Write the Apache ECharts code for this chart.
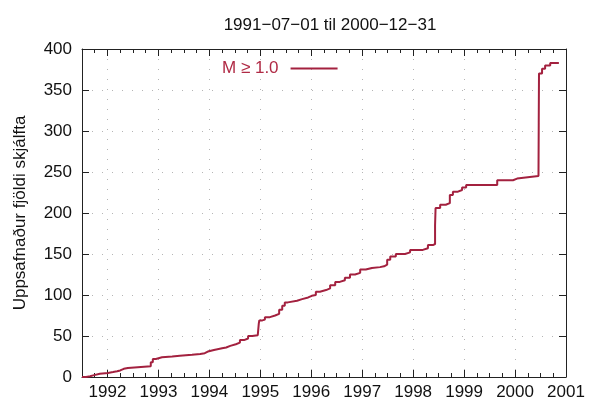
<!DOCTYPE html>
<html>
<head>
<meta charset="utf-8">
<script src="https://cdn.jsdelivr.net/npm/echarts@6/dist/echarts.min.js"></script>
<style>
  html, body { margin: 0; padding: 0; background: #fff; }
  #chart { width: 590px; height: 405px; }
</style>
</head>
<body>
<div id="chart"></div>
<script>
// Cumulative count of earthquakes M >= 1.0, 1991-07-01 .. 2000-12-31
// Event times as decimal years, cumulative count after each step
const eventYears = [
  1991.50, 1991.58, 1991.66, 1991.72, 1991.85, 1992.01, 1992.11, 1992.19,
  1992.25, 1992.32, 1992.40, 1992.85, 1992.89, 1992.95, 1993.07, 1993.27,
  1993.42, 1993.66, 1993.82, 1993.91, 1993.97, 1994.09, 1994.25, 1994.33,
  1994.41, 1994.52, 1994.60, 1994.68, 1994.76, 1994.84, 1994.95, 1994.97,
  1994.98, 1995.04, 1995.09, 1995.19, 1995.29, 1995.37, 1995.43, 1995.48,
  1995.54, 1995.72, 1995.82, 1995.94, 1996.01, 1996.09, 1996.17, 1996.29,
  1996.37, 1996.47, 1996.56, 1996.66, 1996.76, 1996.86, 1996.96, 1997.07,
  1997.19, 1997.35, 1997.43, 1997.49, 1997.55, 1997.66, 1997.84, 1997.94,
  1998.19, 1998.29, 1998.39, 1998.43, 1998.44, 1998.53, 1998.64, 1998.72,
  1998.78, 1998.88, 1998.96, 1999.04, 1999.65, 1999.96, 2000.04, 2000.29,
  2000.46, 2000.465, 2000.47, 2000.53, 2000.59, 2000.69, 2000.86
];
const cumulativeCount = [
  0, 1, 2, 4, 5, 6, 7, 8,
  10, 11, 13, 18, 22, 24, 25, 26,
  27, 28, 29, 31, 33, 35, 36, 38,
  40, 42, 45, 47, 50, 51, 52, 65,
  69, 70, 73, 75, 77, 82, 87, 91,
  93, 95, 97, 99, 100, 104, 106, 108,
  112, 116, 118, 121, 125, 127, 131, 133,
  134, 135, 137, 143, 147, 150, 152, 155,
  157, 161, 162, 185, 206, 210, 212, 222,
  226, 228, 231, 234, 240, 242, 244, 245,
  246, 310, 370, 376, 380, 383, 383
];

const titleText = '1991\u221207\u221201 til 2000\u221212\u221231';
const yAxisTitle = 'Uppsafnaður fjöldi skjálfta';
const seriesName = 'M \u2265 1.0';
const xMin = 1991.5, xMax = 2001;
const yMin = 0, yMax = 400, yStep = 50;

const lineColor = '#a3213f';
const axisColor = '#222';
const gridColor = '#b5b5b5';
const font = 'Liberation Sans, Arial, Helvetica, sans-serif';

const chart = echarts.init(document.getElementById('chart'));

const yearLabel = v => (Math.abs(v - Math.round(v)) < 1e-6 ? String(Math.round(v)) : '');

chart.setOption({
  animation: false,
  backgroundColor: '#fff',
  title: {
    text: titleText,
    left: 325, top: 12, textAlign: 'center',
    textStyle: { fontFamily: font, fontSize: 17, fontWeight: 'normal', color: '#111' }
  },
  legend: {
    left: 217, top: 55,
    align: 'right',
    itemWidth: 47, itemHeight: 10,
    icon: 'path://M0,0 L48,0 L48,2 L0,2 Z',
    textStyle: { fontFamily: font, fontSize: 17, color: '#b02a45', padding: [0, 7, 0, 0] },
    data: [{ name: seriesName, itemStyle: { color: lineColor } }]
  },
  grid: { left: 82, right: 24, top: 49, bottom: 28 },
  xAxis: [
    {
      // years, bottom
      type: 'value', min: xMin, max: xMax, splitNumber: 10, position: 'bottom',
      axisLine: { show: true, lineStyle: { color: axisColor, width: 1 } },
      axisTick: { show: true, inside: true, length: 7, lineStyle: { color: axisColor } },
      axisLabel: { formatter: yearLabel, fontFamily: font, fontSize: 17, color: '#111', margin: 7 },
      splitLine: { show: true, lineStyle: { color: gridColor, type: [1, 9], width: 1 } }
    },
    {
      // quarter-year minor ticks, bottom
      type: 'value', min: xMin, max: xMax, interval: 0.25, position: 'bottom',
      axisLine: { show: false },
      axisTick: { show: true, inside: true, length: 4, lineStyle: { color: axisColor } },
      axisLabel: { show: false }, splitLine: { show: false }
    },
    {
      // years, top mirror
      type: 'value', min: xMin, max: xMax, splitNumber: 10, position: 'top',
      axisLine: { show: true, lineStyle: { color: axisColor, width: 1 } },
      axisTick: { show: true, inside: true, length: 7, lineStyle: { color: axisColor } },
      axisLabel: { show: false }, splitLine: { show: false }
    },
    {
      // quarter-year minor ticks, top
      type: 'value', min: xMin, max: xMax, interval: 0.25, position: 'top',
      axisLine: { show: false },
      axisTick: { show: true, inside: true, length: 4, lineStyle: { color: axisColor } },
      axisLabel: { show: false }, splitLine: { show: false }
    }
  ],
  yAxis: [
    {
      type: 'value', min: yMin, max: yMax, interval: yStep, position: 'left',
      name: yAxisTitle, nameLocation: 'middle', nameGap: 53,
      nameTextStyle: { fontFamily: font, fontSize: 17, color: '#111' },
      axisLine: { show: true, lineStyle: { color: axisColor, width: 1 } },
      axisTick: { show: true, inside: true, length: 7, lineStyle: { color: axisColor } },
      axisLabel: { fontFamily: font, fontSize: 17, color: '#111', margin: 10 },
      splitLine: { show: true, lineStyle: { color: gridColor, type: [1, 9], width: 1 } }
    },
    {
      type: 'value', min: yMin, max: yMax, interval: yStep, position: 'right',
      axisLine: { show: true, lineStyle: { color: axisColor, width: 1 } },
      axisTick: { show: true, inside: true, length: 7, lineStyle: { color: axisColor } },
      axisLabel: { show: false }, splitLine: { show: false }
    }
  ],
  series: [
    {
      name: seriesName,
      type: 'line',
      step: 'end',
      xAxisIndex: 0, yAxisIndex: 0,
      showSymbol: false,
      lineStyle: { color: lineColor, width: 2 },
      itemStyle: { color: lineColor },
      data: eventYears.map((t, i) => [t, cumulativeCount[i]])
    }
  ]
});
</script>
</body>
</html>
